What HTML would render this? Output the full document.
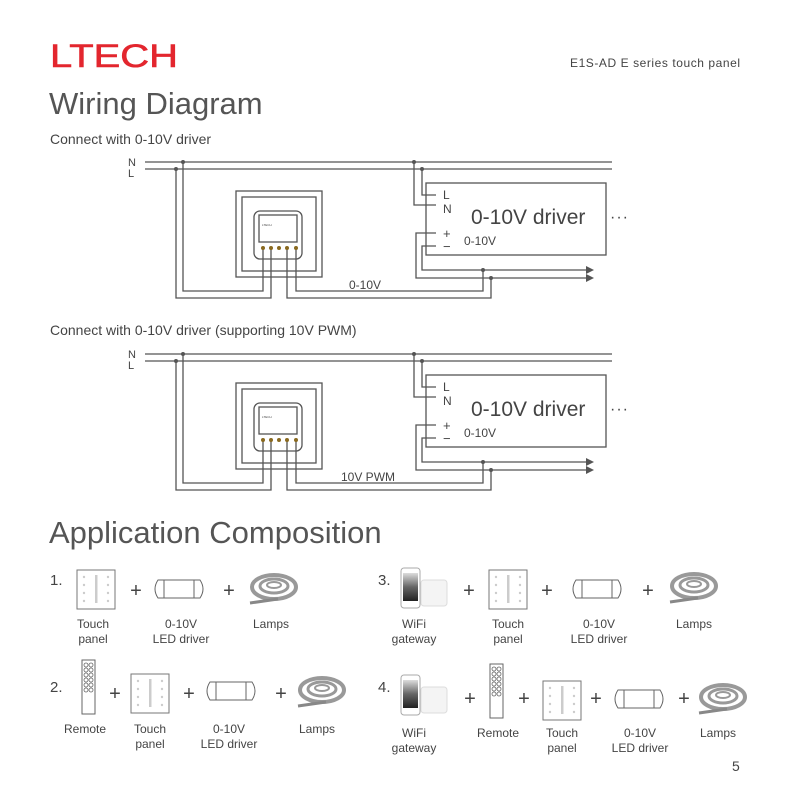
<!DOCTYPE html>
<html><head><meta charset="utf-8"><style>
html,body{margin:0;padding:0;background:#fff;}
svg{display:block;font-family:"Liberation Sans","DejaVu Sans",sans-serif;}
</style></head><body>
<svg width="791" height="789" viewBox="0 0 791 789" xmlns="http://www.w3.org/2000/svg">
<defs>
<linearGradient id="scr" x1="0" y1="0" x2="0" y2="1"><stop offset="0" stop-color="#ddd"/><stop offset="0.5" stop-color="#666"/><stop offset="1" stop-color="#222"/></linearGradient>
<g id="diag" fill="none" stroke="#555" stroke-width="1.3">
  <line x1="145" y1="162" x2="612" y2="162"/>
  <line x1="145" y1="169" x2="612" y2="169"/>
  <rect x="236" y="191" width="86" height="86"/>
  <rect x="242" y="197" width="74" height="74"/>
  <rect x="254" y="211" width="48" height="48" rx="6"/>
  <rect x="259" y="215" width="38" height="27"/>
  <polyline points="263,248 263,291 183,291 183,162"/>
  <polyline points="271,248 271,298 176,298 176,169"/>
  <polyline points="287,248 287,298 491,298 491,278"/>
  <polyline points="296,248 296,291 483,291 483,270"/>
  <rect x="426" y="183" width="180" height="72"/>
  <polyline points="422,169 422,195 436,195"/>
  <polyline points="414,162 414,205 436,205"/>
  <polyline points="436,233 416,233 416,278 590,278"/>
  <polyline points="436,246 422,246 422,270 590,270"/>
  <g fill="#555" stroke="none">
    <circle cx="183" cy="162" r="2"/><circle cx="176" cy="169" r="2"/>
    <circle cx="414" cy="162" r="2"/><circle cx="422" cy="169" r="2"/>
    <circle cx="483" cy="270" r="2"/><circle cx="491" cy="278" r="2"/>
    <polygon points="586,266 594,270 586,274"/><polygon points="586,274 594,278 586,282"/>
    <circle cx="263" cy="248" r="2" fill="#8a6a20"/><circle cx="271" cy="248" r="2" fill="#8a6a20"/><circle cx="279" cy="248" r="2" fill="#8a6a20"/><circle cx="287" cy="248" r="2" fill="#8a6a20"/><circle cx="296" cy="248" r="2" fill="#8a6a20"/>
  </g>
  <g fill="#444" stroke="none">
    <text x="128" y="166" font-size="11">N</text>
    <text x="128" y="177" font-size="11">L</text>
    <text x="443" y="199" font-size="12">L</text>
    <text x="443" y="213" font-size="12">N</text>
    <text x="443" y="238" font-size="13">+</text>
    <text x="443" y="251" font-size="13">−</text>
    <text x="464" y="245" font-size="12">0-10V</text>
    <text x="471" y="224" font-size="21">0-10V driver</text>
    <text x="610" y="222" font-size="16" letter-spacing="1">···</text>
    <text x="262" y="226" font-size="3">LTECH</text>
  </g>
</g>
<g id="tp"><rect x="0" y="0" width="38" height="39" fill="#fff" stroke="#777" stroke-width="1"/>
 <g fill="#ccc"><rect x="18" y="5" width="2.5" height="28"/><circle cx="7" cy="7" r="1.2"/><circle cx="7" cy="15" r="1.2"/><circle cx="7" cy="23" r="1.2"/><circle cx="7" cy="31" r="1.2"/><circle cx="31" cy="7" r="1.2"/><circle cx="31" cy="15" r="1.2"/><circle cx="31" cy="23" r="1.2"/><circle cx="31" cy="31" r="1.2"/></g></g>
<g id="drv" fill="#fff" stroke="#666" stroke-width="1"><path d="M6,0 H48 Q54,9 48,18 H6 Q0,9 6,0 Z"/><line x1="12" y1="0" x2="12" y2="18"/><line x1="42" y1="0" x2="42" y2="18"/></g>
<g id="lamp" fill="none" stroke="#999"><ellipse cx="26" cy="14" rx="22" ry="12" stroke-width="4"/><ellipse cx="26" cy="13" rx="14" ry="7" stroke-width="3"/><ellipse cx="26" cy="12" rx="7" ry="3" stroke-width="2"/><line x1="2" y1="30" x2="30" y2="26" stroke-width="3" stroke="#888"/></g>
<g id="rem" fill="none" stroke="#666" stroke-width="1"><rect x="0" y="0" width="13" height="54"/>
 <g stroke-width="0.8"><circle cx="4" cy="5" r="2"/><circle cx="9" cy="5" r="2"/><circle cx="4" cy="10" r="2"/><circle cx="9" cy="10" r="2"/><circle cx="4" cy="15" r="2"/><circle cx="9" cy="15" r="2"/><circle cx="4" cy="20" r="2"/><circle cx="9" cy="20" r="2"/><circle cx="4" cy="25" r="2"/><circle cx="9" cy="25" r="2"/><circle cx="4" cy="30" r="2"/><circle cx="9" cy="30" r="2"/></g></g>
<g id="wifi"><rect x="20" y="12" width="26" height="26" rx="3" fill="#f4f4f4" stroke="#ddd"/><rect x="0" y="0" width="19" height="40" rx="3" fill="#fff" stroke="#aaa"/><rect x="2" y="5" width="15" height="28" fill="url(#scr)"/></g>
</defs>

<text x="50" y="67" font-size="32" fill="#e3262e" stroke="#e3262e" stroke-width="0.6" textLength="128" lengthAdjust="spacingAndGlyphs">LTECH</text>
<text x="570" y="67" font-size="12" fill="#444" textLength="170">E1S-AD  E series touch panel</text>
<text x="49" y="114" font-size="31" fill="#555">Wiring Diagram</text>
<text x="50" y="144" font-size="14" fill="#444">Connect with 0-10V driver</text>
<use href="#diag"/>
<text x="349" y="289" font-size="12" fill="#444">0-10V</text>
<text x="50" y="335" font-size="14" fill="#444">Connect with 0-10V driver (supporting 10V PWM)</text>
<use href="#diag" transform="translate(0,192)"/>
<text x="341" y="481" font-size="12" fill="#444">10V PWM</text>
<text x="49" y="543" font-size="31" fill="#555">Application Composition</text>

<g font-size="15" fill="#444">
<text x="50" y="585">1.</text><text x="50" y="692">2.</text><text x="378" y="585">3.</text><text x="378" y="692">4.</text>
</g>
<g font-size="20" fill="#444" text-anchor="middle">
<text x="136" y="597">+</text><text x="229" y="597">+</text>
<text x="115" y="700">+</text><text x="189" y="700">+</text><text x="281" y="700">+</text>
<text x="469" y="597">+</text><text x="547" y="597">+</text><text x="648" y="597">+</text>
<text x="470" y="705">+</text><text x="524" y="705">+</text><text x="596" y="705">+</text><text x="684" y="705">+</text>
</g>
<use href="#tp" transform="translate(77,570)"/>
<use href="#drv" transform="translate(152,580)"/>
<use href="#lamp" transform="translate(248,573)"/>
<use href="#rem" transform="translate(82,660)"/>
<use href="#tp" transform="translate(131,674)"/>
<use href="#drv" transform="translate(204,682)"/>
<use href="#lamp" transform="translate(296,676)"/>
<use href="#wifi" transform="translate(401,568)"/>
<use href="#tp" transform="translate(489,570)"/>
<use href="#drv" transform="translate(570,580)"/>
<use href="#lamp" transform="translate(668,572)"/>
<use href="#wifi" transform="translate(401,675)"/>
<use href="#rem" transform="translate(490,664)"/>
<use href="#tp" transform="translate(543,681)"/>
<use href="#drv" transform="translate(612,690)"/>
<use href="#lamp" transform="translate(697,683)"/>

<g font-size="12" fill="#444" text-anchor="middle">
<text x="93" y="628">Touch</text><text x="93" y="643">panel</text>
<text x="181" y="628">0-10V</text><text x="181" y="643">LED driver</text>
<text x="271" y="628">Lamps</text>
<text x="85" y="733">Remote</text>
<text x="150" y="733">Touch</text><text x="150" y="748">panel</text>
<text x="229" y="733">0-10V</text><text x="229" y="748">LED driver</text>
<text x="317" y="733">Lamps</text>
<text x="414" y="628">WiFi</text><text x="414" y="643">gateway</text>
<text x="508" y="628">Touch</text><text x="508" y="643">panel</text>
<text x="599" y="628">0-10V</text><text x="599" y="643">LED driver</text>
<text x="694" y="628">Lamps</text>
<text x="414" y="737">WiFi</text><text x="414" y="752">gateway</text>
<text x="498" y="737">Remote</text>
<text x="562" y="737">Touch</text><text x="562" y="752">panel</text>
<text x="640" y="737">0-10V</text><text x="640" y="752">LED driver</text>
<text x="718" y="737">Lamps</text>
</g>
<text x="732" y="771" font-size="14" fill="#444">5</text>
</svg>
</body></html>
